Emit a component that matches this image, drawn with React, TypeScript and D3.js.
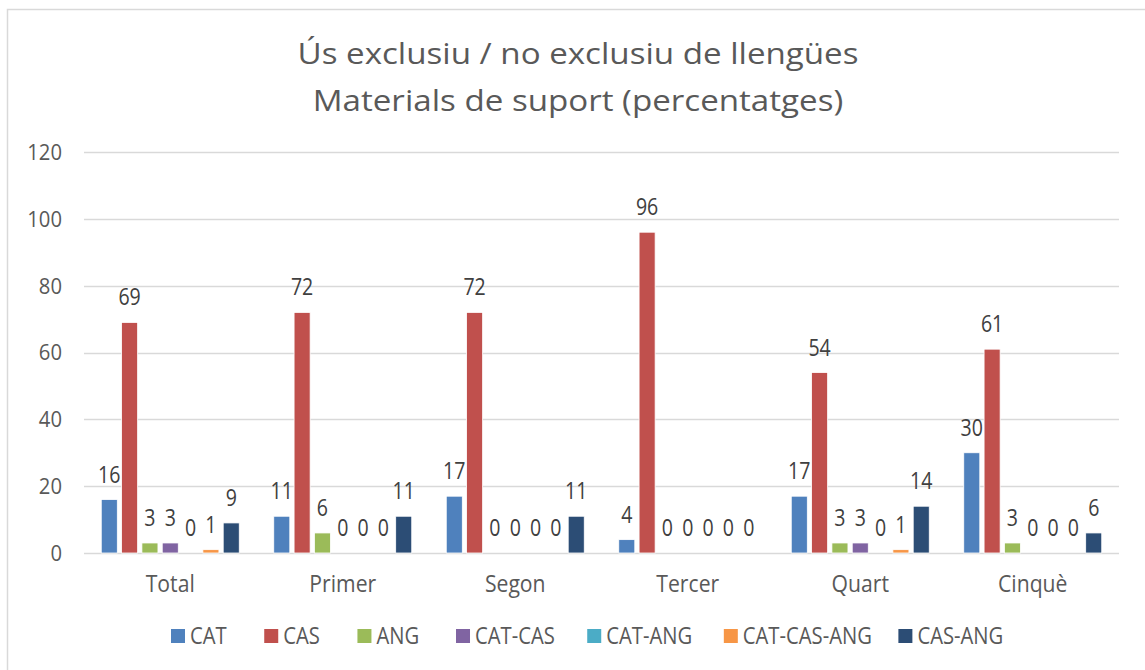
import React, { useEffect, useRef } from "react";
import * as d3 from "d3";

const categories = ["Total", "Primer", "Segon", "Tercer", "Quart", "Cinquè"];
const seriesNames = ["CAT", "CAS", "ANG", "CAT-CAS", "CAT-ANG", "CAT-CAS-ANG", "CAS-ANG"];
const seriesColors = ["#4F81BD", "#C0504D", "#9BBB59", "#8064A2", "#4BACC6", "#F79646", "#2C4D75"];
const valCAT = [16, 11, 17, 4, 17, 30];
const valCAS = [69, 72, 72, 96, 54, 61];
const valANG = [3, 6, 0, 0, 3, 3];
const valCATCAS = [3, 0, 0, 0, 3, 0];
const valCATANG = [0, 0, 0, 0, 0, 0];
const valCATCASANG = [1, 0, 0, 0, 1, 0];
const valCASANG = [9, 11, 11, 0, 14, 6];
const seriesValues = [valCAT, valCAS, valANG, valCATCAS, valCATANG, valCATCASANG, valCASANG];
const yTicks = [0, 20, 40, 60, 80, 100, 120];
const titleLines = ["Ús exclusiu / no exclusiu de llengües", "Materials de suport (percentatges)"];

const W = 1145;
const H = 670;
const FONT = "'Open Sans', Lato, sans-serif";
const NARROW = 0.88;

export default function App() {
  const ref = useRef<SVGSVGElement>(null);
  useEffect(() => {
    const svg = d3.select(ref.current);
    svg.selectAll("*").remove();

    svg.append("rect").attr("x", 7.5).attr("y", 9.5).attr("width", 1300).attr("height", 800)
      .attr("fill", "#fff").attr("stroke", "#d9d9d9").attr("stroke-width", 1.5);

    const plotL = 84, plotR = 1119, plotT = 152, plotB = 553;
    const y = d3.scaleLinear().domain([0, 120]).range([plotB, plotT]);
    const x0 = d3.scaleBand().domain(categories).range([plotL, plotR]).paddingInner(0).paddingOuter(0);
    const groupW = x0.bandwidth() * 0.80;
    const x1 = d3.scaleBand().domain(seriesNames).range([0, groupW]).paddingInner(0.21).paddingOuter(0);

    const narrow = (sel: any, factor: number) => {
      sel.each(function (this: SVGTextElement) {
        const w = this.getComputedTextLength();
        if (w > 0) {
          this.setAttribute("textLength", String(w * factor));
          this.setAttribute("lengthAdjust", "spacingAndGlyphs");
        }
      });
    };

    // title
    const title = svg.append("g").selectAll("text").data(titleLines).join("text")
      .attr("x", 578).attr("y", (_d, i) => 64 + i * 47)
      .attr("text-anchor", "middle").attr("font-family", FONT).attr("font-size", 29)
      .attr("fill", "#595959").text(d => d);
    const tw: number[] = [];
    title.each(function (this: SVGTextElement) { tw.push(this.getComputedTextLength()); });
    narrow(title, 561 / tw[0]);

    // grid
    svg.append("g").selectAll("line").data(yTicks).join("line")
      .attr("x1", plotL).attr("x2", plotR)
      .attr("y1", d => Math.round(y(d)) + 0.5).attr("y2", d => Math.round(y(d)) + 0.5)
      .attr("stroke", "#d9d9d9").attr("stroke-width", 1.3);

    const ticks = svg.append("g").selectAll("text").data(yTicks).join("text")
      .attr("x", 62).attr("y", d => y(d)).attr("dy", "0.36em")
      .attr("text-anchor", "end").attr("font-family", FONT).attr("font-size", 22)
      .attr("fill", "#595959").text(d => String(d));
    narrow(ticks, 0.92);

    // bars
    const groups = svg.append("g").selectAll("g").data(categories).join("g")
      .attr("transform", c => `translate(${(x0(c) as number) + (x0.bandwidth() - groupW) / 2},0)`);

    seriesNames.forEach((s, si) => {
      groups.append("rect")
        .attr("x", () => x1(s) as number)
        .attr("y", (_c, ci) => y(seriesValues[si][ci]))
        .attr("width", x1.bandwidth())
        .attr("height", (_c, ci) => plotB - y(seriesValues[si][ci]))
        .attr("fill", seriesColors[si])
        .attr("stroke", "#ffffff").attr("stroke-width", 0.8);
    });
    seriesNames.forEach((s, si) => {
      const lbl = groups.append("text")
        .attr("x", () => (x1(s) as number) + x1.bandwidth() / 2)
        .attr("y", (_c, ci) => y(seriesValues[si][ci]) - 17)
        .attr("text-anchor", "middle").attr("font-family", FONT).attr("font-size", 23)
        .attr("fill", "#404040").text((_c, ci) => String(seriesValues[si][ci]));
      narrow(lbl, 0.85);
    });

    // category labels
    const cats = svg.append("g").selectAll("text").data(categories).join("text")
      .attr("x", c => (x0(c) as number) + x0.bandwidth() / 2).attr("y", 592)
      .attr("text-anchor", "middle").attr("font-family", FONT).attr("font-size", 23)
      .attr("fill", "#595959").text(c => c);
    narrow(cats, 0.92);

    // legend
    const lg = svg.append("g");
    const items = lg.selectAll("g").data(seriesNames).join("g");
    items.append("rect").attr("width", 14).attr("height", 14).attr("y", -7)
      .attr("fill", (_d, i) => seriesColors[i]);
    const texts = items.append("text").attr("x", 19).attr("dy", "0.36em")
      .attr("font-family", FONT).attr("font-size", 23).attr("fill", "#595959").text(d => d);
    narrow(texts, NARROW);
    const widths: number[] = [];
    texts.each(function (this: SVGTextElement) { widths.push(this.getComputedTextLength() * NARROW); });
    const itemW = widths.map(w => 19 + w);
    const span = 822;
    const gap = (span - d3.sum(itemW)) / (itemW.length - 1);
    let cx = 582 - span / 2;
    items.attr("transform", (_d, i) => {
      const t = `translate(${cx},636)`;
      cx += itemW[i] + gap;
      return t;
    });
  }, []);
  return (
    <svg ref={ref} width={W} height={H} style={{ position: "absolute", left: 0, top: 0, background: "#fff" }} />
  );
}
